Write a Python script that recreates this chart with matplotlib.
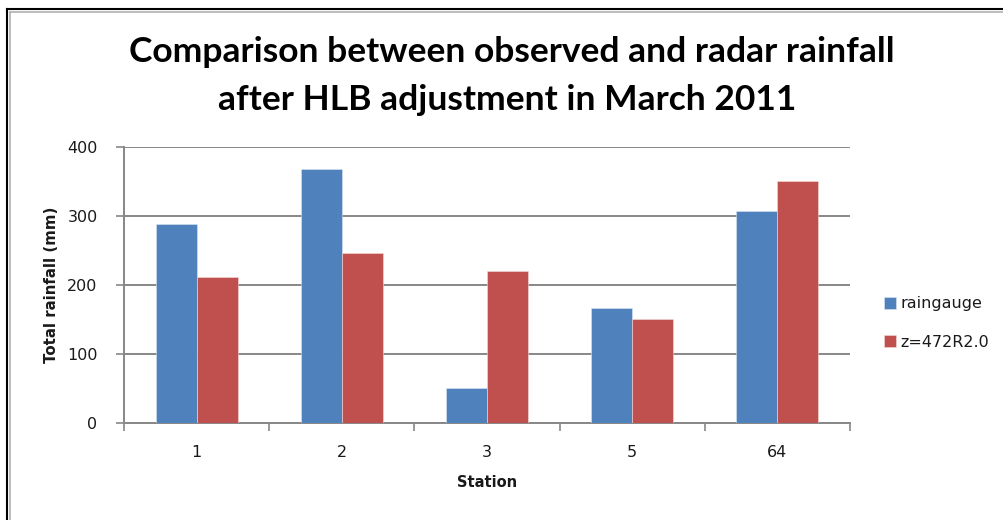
import matplotlib
matplotlib.use("Agg")
import matplotlib.pyplot as plt
from matplotlib.lines import Line2D
import numpy as np

stations = ["1", "2", "3", "5", "64"]
raingauge = [288, 368, 50, 167, 308]
radar = [211, 246, 220, 150, 351]
series_names = ["raingauge", "z=472R2.0"]
yticks = [0, 100, 200, 300, 400]

blue = "#4F81BD"
red = "#C0504D"
grid_c = "#878787"
txt_c = "#1a1a1a"

fig = plt.figure(figsize=(10.04, 5.2), dpi=100)
ax = fig.add_axes([124/1004, 1-422.7/520, (850-124)/1004, (422.7-147.3)/520])

x = np.arange(len(stations))
w = 0.283
ax.bar(x - w/2, raingauge, w, color=blue, edgecolor="#dce6f2", linewidth=0.4, label=series_names[0], zorder=3)
ax.bar(x + w/2, radar, w, color=red, edgecolor="#f2dcdb", linewidth=0.4, label=series_names[1], zorder=3)

ax.set_xlim(-0.5, len(stations) - 0.5)
ax.set_ylim(0, 400)
ax.set_yticks(yticks)
ax.set_yticklabels([str(v) for v in yticks], fontsize=11.5, family="DejaVu Sans", color=txt_c)
ax.yaxis.grid(True, color=grid_c, linewidth=1.4, zorder=0)
ax.set_axisbelow(True)

ax.set_xticks(x)
ax.set_xticklabels(stations, fontsize=11.5, family="DejaVu Sans", color=txt_c)
ax.tick_params(axis="x", length=0, pad=16)
ax.set_xticks(np.arange(len(stations) + 1) - 0.5, minor=True)
ax.tick_params(axis="x", which="minor", length=6, color=grid_c, width=1.2, direction="out")
ax.tick_params(axis="y", length=6, color=grid_c, width=1.2, direction="out", pad=13)

for s in ["top", "right"]:
    ax.spines[s].set_visible(False)
for s in ["left", "bottom"]:
    ax.spines[s].set_color(grid_c)
    ax.spines[s].set_linewidth(1.4)

ax.set_xlabel("Station", fontsize=10.5, fontweight="bold", family="DejaVu Sans", labelpad=11, color=txt_c)
ax.set_ylabel("Total rainfall (mm)", fontsize=10.8, fontweight="bold", family="DejaVu Sans", labelpad=6, color=txt_c)

fig.text(512/1004, 1-52/520, "Comparison between observed and radar rainfall", ha="center", va="center",
         fontsize=25.5, fontweight="bold", family="Lato")
fig.text(507/1004, 1-100/520, "after HLB adjustment in March 2011", ha="center", va="center",
         fontsize=25.5, fontweight="bold", family="Lato")

leg = ax.legend(loc="center left", bbox_to_anchor=(1.027, 0.362), frameon=False,
                handlelength=0.75, handleheight=0.75, handletextpad=0.3, labelspacing=1.45,
                prop={"family": "DejaVu Sans", "size": 11.5})
for t in leg.get_texts():
    t.set_color(txt_c)

# outer frame
fig.add_artist(Line2D([7/1004, 7/1004], [0, 1-9/520], color="black", linewidth=1.5))
fig.add_artist(Line2D([7/1004, 1], [1-9/520, 1-9/520], color="black", linewidth=1.5))
fig.add_artist(Line2D([9.5/1004, 9.5/1004], [0, 1-11.5/520], color="#b0b0b0", linewidth=1.2))
fig.add_artist(Line2D([9.5/1004, 1], [1-11.5/520, 1-11.5/520], color="#b0b0b0", linewidth=1.2))

fig.savefig("out.png", dpi=100)
